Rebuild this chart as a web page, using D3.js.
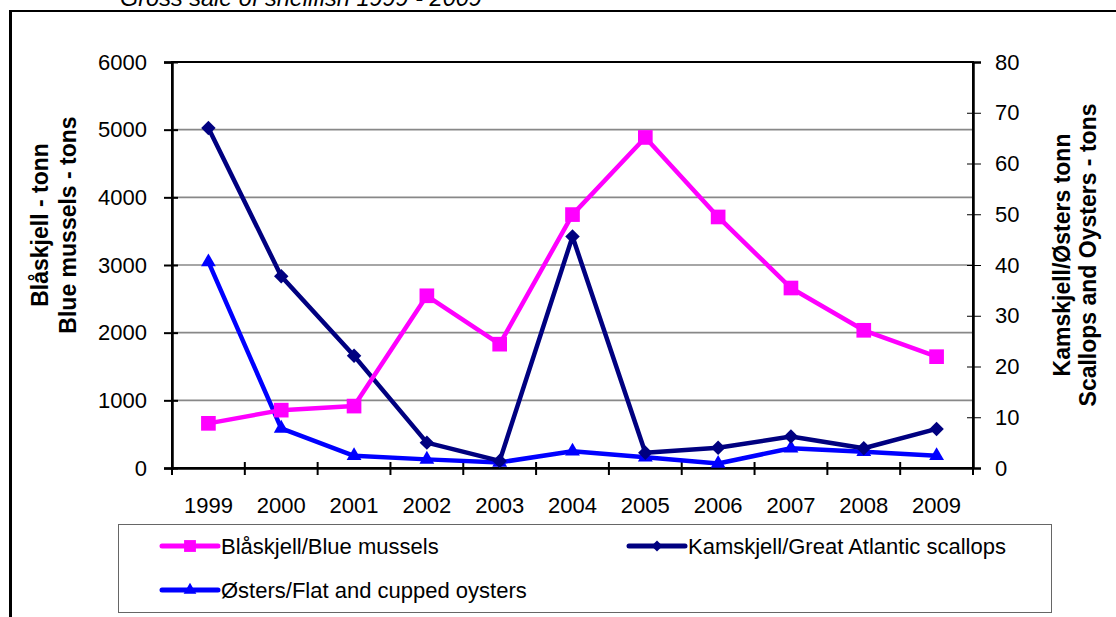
<!DOCTYPE html>
<html>
<head>
<meta charset="utf-8">
<script src="https://cdn.jsdelivr.net/npm/d3@7"></script>
<style>
  body { margin: 0; background: #fff; }
  svg text { font-family: "Liberation Sans", Arial, sans-serif; fill: #000; }
</style>
</head>
<body>
<div id="chart"></div>
<script>
var svgWidth = 1116;
var svgHeight = 617;

var margin = { top: 62, right: 143, bottom: 149, left: 172 };
var width = svgWidth - margin.left - margin.right;
var height = svgHeight - margin.top - margin.bottom;

// data
var years = ["1999", "2000", "2001", "2002", "2003", "2004", "2005", "2006", "2007", "2008", "2009"];
var mussels = [660, 855, 915, 2545, 1830, 3745, 4885, 3710, 2660, 2035, 1645];   // left axis
var scallops = [67.0, 37.8, 22.1, 5.0, 1.4, 45.6, 3.0, 4.0, 6.2, 3.9, 7.7];      // right axis
var oysters = [40.6, 7.8, 2.4, 1.7, 1.1, 3.3, 2.1, 0.9, 3.9, 3.2, 2.4];          // right axis
var leftTicks = [0, 1000, 2000, 3000, 4000, 5000, 6000];
var rightTicks = [0, 10, 20, 30, 40, 50, 60, 70, 80];

var svg = d3.select("#chart")
  .append("svg")
  .attr("width", svgWidth)
  .attr("height", svgHeight);

// outer frame (only top and left edges visible)
svg.append("line").attr("x1", 10).attr("x2", svgWidth).attr("y1", 11).attr("y2", 11)
  .attr("stroke", "#000").attr("stroke-width", 2);
svg.append("line").attr("x1", 10.5).attr("x2", 10.5).attr("y1", 10).attr("y2", svgHeight)
  .attr("stroke", "#000").attr("stroke-width", 3);

// title, cut by the top edge like in the original
svg.append("text")
  .attr("x", 120)
  .attr("y", 6)
  .attr("font-size", "23.5px")
  .attr("font-style", "italic")
  .text("Gross sale of shellfish 1999 - 2009");

var chartGroup = svg.append("g")
  .attr("transform", `translate(${margin.left}, ${margin.top})`);

var xScale = d3.scaleBand().domain(years).range([0, width]).padding(0);
var yLeft = d3.scaleLinear().domain([0, 6000]).range([height, 0]);
var yRight = d3.scaleLinear().domain([0, 80]).range([height, 0]);
var cx = d => xScale(d) + xScale.bandwidth() / 2;

// gridlines
chartGroup.selectAll(".grid")
  .data(leftTicks.slice(1, -1))
  .enter()
  .append("line")
  .attr("x1", 0).attr("x2", width)
  .attr("y1", d => yLeft(d)).attr("y2", d => yLeft(d))
  .attr("stroke", "#888").attr("stroke-width", 1.6);

// plot frame
chartGroup.append("rect")
  .attr("width", width).attr("height", height)
  .attr("fill", "none").attr("stroke", "#000").attr("stroke-width", 2);

// left axis
var leftAxis = d3.axisLeft(yLeft).tickValues(leftTicks).tickSize(8).tickFormat(d3.format("d"));
var yAxisL = chartGroup.append("g").call(leftAxis);
yAxisL.select(".domain").attr("stroke-width", 2.5);
yAxisL.selectAll(".tick line").attr("x1", 6).attr("x2", -8).attr("stroke-width", 2);
yAxisL.selectAll(".tick text").attr("x", -25).attr("font-size", "22px");

// right axis
var rightAxis = d3.axisRight(yRight).tickValues(rightTicks).tickSize(8);
var yAxisR = chartGroup.append("g")
  .attr("transform", `translate(${width}, 0)`)
  .call(rightAxis);
yAxisR.select(".domain").attr("stroke-width", 2.5);
yAxisR.selectAll(".tick line").attr("x1", -6).attr("x2", 8).attr("stroke-width", 1);
yAxisR.selectAll(".tick text").attr("x", 22).attr("font-size", "22px");

// bottom axis: labels centred, ticks on band edges
var bottomAxis = d3.axisBottom(xScale).tickSize(0);
var xAxis = chartGroup.append("g")
  .attr("transform", `translate(0, ${height})`)
  .call(bottomAxis);
xAxis.select(".domain").attr("stroke-width", 2.5);
xAxis.selectAll(".tick text").attr("y", 29).attr("dy", "0.71em").attr("font-size", "22px");
xAxis.selectAll(".edge")
  .data(years.map(d => xScale(d)).concat([width]))
  .enter()
  .append("line")
  .attr("x1", d => d).attr("x2", d => d)
  .attr("y1", -6).attr("y2", 7)
  .attr("stroke", "#000").attr("stroke-width", 2);
chartGroup.selectAll(".domain").attr("stroke", "#000");

// axis titles
var leftTitle = svg.append("text")
  .attr("transform", "translate(48, 225) rotate(-90)")
  .attr("text-anchor", "middle")
  .attr("font-size", "23px")
  .attr("font-weight", "bold");
leftTitle.append("tspan").attr("x", 0).attr("y", 0).text("Blåskjell - tonn");
leftTitle.append("tspan").attr("x", 0).attr("y", 28).text("Blue mussels - tons");

var rightTitle = svg.append("text")
  .attr("transform", "translate(1070, 255) rotate(-90)")
  .attr("text-anchor", "middle")
  .attr("font-size", "23px")
  .attr("font-weight", "bold");
rightTitle.append("tspan").attr("x", 0).attr("y", 0).text("Kamskjell/Østers tonn");
rightTitle.append("tspan").attr("x", 0).attr("y", 26).text("Scallops and Oysters - tons");

// series (diamond = square turned 45 degrees, as in Excel)
var series = [
  { name: "Blåskjell/Blue mussels", values: mussels, scale: yLeft, color: "#FF00FF", symbol: d3.symbolSquare, rot: 0, size: 215, lsize: 140 },
  { name: "Kamskjell/Great Atlantic scallops", values: scallops, scale: yRight, color: "#000080", symbol: d3.symbolSquare, rot: 45, size: 105, lsize: 60 },
  { name: "Østers/Flat and cupped oysters", values: oysters, scale: yRight, color: "#0000FF", symbol: d3.symbolTriangle, rot: 0, size: 95, lsize: 70 }
];

// draw back to front: oysters, scallops, mussels
[series[2], series[1], series[0]].forEach(function(s) {
  var line = d3.line()
    .x((d, i) => cx(years[i]))
    .y(d => s.scale(d));

  chartGroup.append("path")
    .datum(s.values)
    .attr("d", line)
    .attr("fill", "none")
    .attr("stroke", s.color)
    .attr("stroke-width", 4.5)
    .attr("stroke-linejoin", "round");

  chartGroup.selectAll(null)
    .data(s.values)
    .enter()
    .append("path")
    .attr("d", d3.symbol().type(s.symbol).size(s.size))
    .attr("transform", (d, i) => `translate(${cx(years[i])}, ${s.scale(d)}) rotate(${s.rot})`)
    .attr("fill", s.color);
});

// legend
svg.append("rect")
  .attr("x", 118.5).attr("y", 524.5)
  .attr("width", 933).attr("height", 88)
  .attr("fill", "#fff").attr("stroke", "#666").attr("stroke-width", 1);

var legendPos = [[162, 546], [629, 546], [162, 590]];
series.forEach(function(s, i) {
  var g = svg.append("g").attr("transform", `translate(${legendPos[i][0]}, ${legendPos[i][1]})`);
  g.append("line")
    .attr("x1", 0).attr("x2", 56)
    .attr("stroke", s.color).attr("stroke-width", 5).attr("stroke-linecap", "round");
  g.append("path")
    .attr("d", d3.symbol().type(s.symbol).size(s.lsize))
    .attr("transform", `translate(28, 0) rotate(${s.rot})`)
    .attr("fill", s.color);
  g.append("text")
    .attr("x", 59)
    .attr("dy", "0.35em")
    .attr("font-size", "22px")
    .text(s.name);
});
</script>
</body>
</html>
